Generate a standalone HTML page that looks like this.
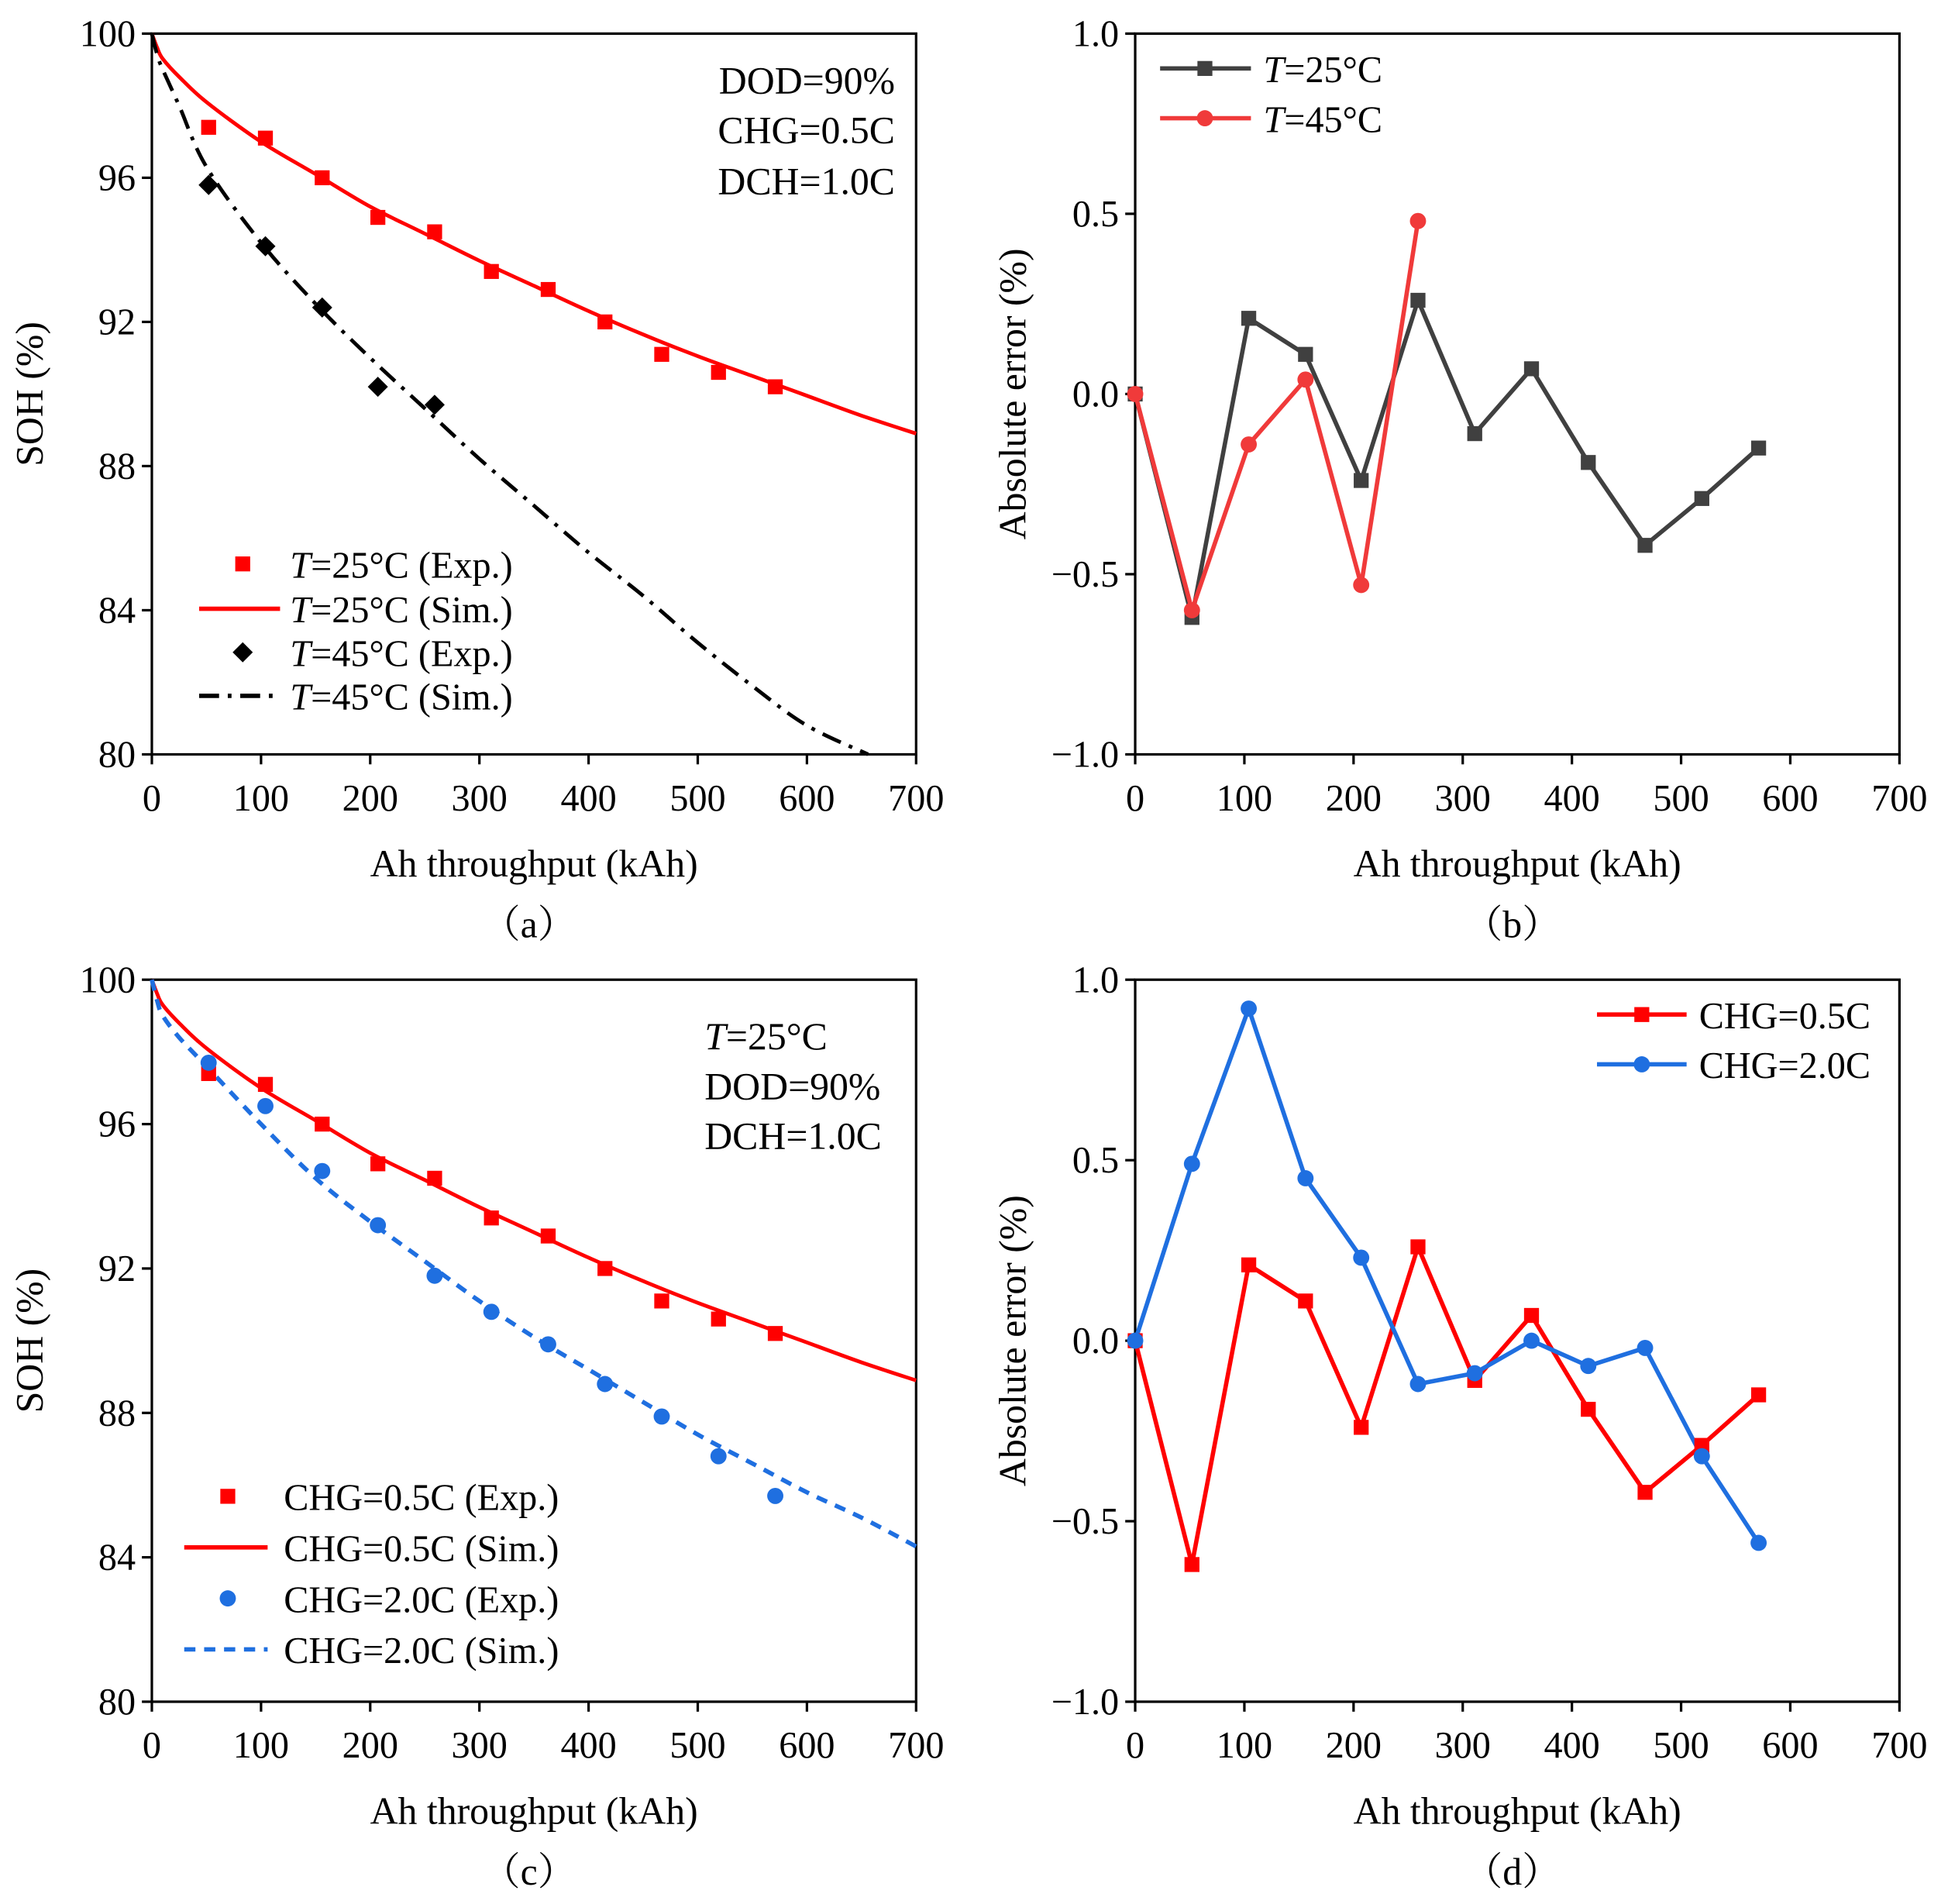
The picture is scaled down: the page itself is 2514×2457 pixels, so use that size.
<!DOCTYPE html>
<html><head><meta charset="utf-8"><style>
html,body{margin:0;padding:0;background:#fff}
svg{display:block}
text{font-family:"Liberation Serif","Noto Serif CJK SC",serif;fill:#000}
</style></head><body>
<svg id="fig" width="2514" height="2457" viewBox="0 0 1565 1529.5" preserveAspectRatio="none" xmlns="http://www.w3.org/2000/svg"></svg>
<script>
const expX=[52,104,156,207,259,311,363,415,467,519,571];
const soh25Exp=[97.4,97.1,96.0,94.9,94.5,93.4,92.9,92.0,91.1,90.6,90.2];
const soh45ExpX=[52,104,156,207,259];
const soh45Exp=[95.8,94.1,92.4,90.2,89.7];
const simX=[0,5,10,25,50,100,150,200,250,300,350,400,450,500,550,600,650,700];
const soh25Sim=[100,99.6,99.3,98.8,98.1,97.0,96.1,95.2,94.45,93.7,93.0,92.3,91.65,91.05,90.5,89.95,89.4,88.9];
const soh45SimX=[0,5,10,25,50,100,150,200,250,300,350,400,450,500,550,600,656];
const soh45Sim=[100,99.4,99.0,98.0,96.3,94.2,92.5,91.0,89.6,88.2,86.9,85.6,84.4,83.1,81.9,80.8,80.0];
const soh20Sim=[100,99.4,99.0,98.4,97.6,96.0,94.5,93.3,92.2,91.1,90.1,89.2,88.3,87.4,86.6,85.8,85.1,84.3];
const soh20Exp=[97.7,96.5,94.7,93.2,91.8,90.8,89.9,88.8,87.9,86.8,85.7];
const errX=[0,52,104,156,207,259,311,363,415,467,519,571];
const err25=[0,-0.62,0.21,0.11,-0.24,0.26,-0.11,0.07,-0.19,-0.42,-0.29,-0.15];
const err45X=[0,52,104,156,207,259];
const err45=[0,-0.60,-0.14,0.04,-0.53,0.48];
const errChg20=[0,0.49,0.92,0.45,0.23,-0.12,-0.09,0.00,-0.07,-0.02,-0.32,-0.56];
const xTicks=[0,100,200,300,400,500,600,700];
const sohTicks=[80,84,88,92,96,100];
const errTicks=[-1.0,-0.5,0.0,0.5,1.0];
const errTickLabels=["\u22121.0","\u22120.5","0.0","0.5","1.0"];

const NS="http://www.w3.org/2000/svg";
const svg=document.getElementById('fig');
function mk(tag,attrs,parent){const e=document.createElementNS(NS,tag);for(const k in attrs)e.setAttribute(k,attrs[k]);(parent||svg).appendChild(e);return e;}

function panel(id,x0,x1,yTop,yBot,ymin,ymax,yt,ytl,ytitle,sub){
  const g=mk('g',{});
  
  
  const sx=v=>x0+(v/700)*(x1-x0);
  const sy=v=>yBot-(v-ymin)/(ymax-ymin)*(yBot-yTop);
  const fr=mk('rect',{x:x0,y:yTop,width:x1-x0,height:yBot-yTop,fill:'none',stroke:'#000','stroke-width':2},g);
  
  
  xTicks.forEach(t=>{
    mk('line',{x1:sx(t),x2:sx(t),y1:yBot,y2:yBot+8,stroke:'#000','stroke-width':2},g);
    const tx=mk('text',{x:sx(t),y:yBot+45,'text-anchor':'middle','font-size':30},g);tx.textContent=t;
    
    
  });
  yt.forEach((t,i)=>{
    mk('line',{x1:x0-8,x2:x0,y1:sy(t),y2:sy(t),stroke:'#000','stroke-width':2},g);
    const tx=mk('text',{x:x0-13,y:sy(t)+10,'text-anchor':'end','font-size':30},g);tx.textContent=ytl[i];
    
    
  });
  const xt=mk('text',{x:(x0+x1)/2,y:yBot+98,'text-anchor':'middle','font-size':31},g);xt.textContent='Ah throughput (kAh)';
  
  
  const cy=(yTop+yBot)/2;
  const ytt=mk('text',{x:x0-88,y:cy,'text-anchor':'middle','font-size':31,transform:`rotate(-90 ${x0-88} ${cy})`},g);ytt.textContent=ytitle;
  
  
  const st=mk('text',{x:(x0+x1)/2-4,y:yBot+147,'text-anchor':'middle','font-size':31},g);st.textContent='\uFF08'+sub+'\uFF09';
  
  
  return {g,sx,sy};
}
function line(p,xs,ys,color,w,dash,name,smooth){
  const P=xs.map((x,i)=>[p.sx(x),p.sy(ys[i])]);
  let d='M'+P[0][0].toFixed(1)+','+P[0][1].toFixed(1);
  for(let i=1;i<P.length;i++){
    if(smooth){
      const p0=P[i-2]||P[i-1],p1=P[i-1],p2=P[i],p3=P[i+1]||P[i];
      const c1=[p1[0]+(p2[0]-p0[0])/6,p1[1]+(p2[1]-p0[1])/6];
      const c2=[p2[0]-(p3[0]-p1[0])/6,p2[1]-(p3[1]-p1[1])/6];
      d+='C'+c1.map(v=>v.toFixed(1)).join(',')+' '+c2.map(v=>v.toFixed(1)).join(',')+' '+p2[0].toFixed(1)+','+p2[1].toFixed(1);
    } else d+='L'+P[i][0].toFixed(1)+','+P[i][1].toFixed(1);
  }
  const e=mk('path',{d,fill:'none',stroke:color,'stroke-width':w,'stroke-dasharray':dash||'none','stroke-linejoin':'round'},p.g);
  
  
}
function marker(g,type,x,y,color,s,name){
  let e;
  if(type==='sq')e=mk('rect',{x:x-s,y:y-s,width:2*s,height:2*s,fill:color},g);
  else if(type==='ci')e=mk('circle',{cx:x,cy:y,r:s,fill:color},g);
  else e=mk('path',{d:`M${x},${y-s*1.35}L${x+s*1.35},${y}L${x},${y+s*1.35}L${x-s*1.35},${y}Z`,fill:color},g);
  
  
}
function pts(p,xs,ys,type,color,s,name){xs.forEach((x,i)=>marker(p.g,type,p.sx(x),p.sy(ys[i]),color,s,name));}
function legText(g,x,y,italicT,rest,size){
  const t=mk('text',{x,y,'font-size':size||30},g);
  if(italicT){const a=mk('tspan',{'font-style':'italic'},t);a.textContent='T';const b=mk('tspan',{},t);b.textContent=rest;}
  else t.textContent=rest;
  
  
}
function legLine(g,x1,x2,y,color,dash){const e=mk('line',{x1,x2,y1:y,y2:y,stroke:color,'stroke-width':3.5,'stroke-dasharray':dash||'none'},g);
  
  }

const RED='#ff0000',BLUE='#1f6fe0',GREY='#404040',LRED='#f03a3a';
const DASHDOT='16,7,3,7';
// Panel a
const pa=panel('a',122,736,27,606,80,100,sohTicks,sohTicks.map(String),'SOH (%)','a');
line(pa,simX,soh25Sim,RED,3,null,'sim-25c-line',true);
line(pa,soh45SimX,soh45Sim,'#000',3,DASHDOT,'sim-45c-line',true);
pts(pa,expX,soh25Exp,'sq',RED,6,'exp-25c-point');
pts(pa,soh45ExpX,soh45Exp,'di','#000',6,'exp-45c-point');
[['DOD=90%',75],['CHG=0.5C',115],['DCH=1.0C',156]].forEach(a=>{const t=mk('text',{x:719,y:a[1],'text-anchor':'end','font-size':31},pa.g);t.textContent=a[0];
  
  });
marker(pa.g,'sq',195,453,RED,6,'legend-marker');legText(pa.g,233,464,true,'=25°C (Exp.)');
legLine(pa.g,160,225,489,RED);legText(pa.g,233,500,true,'=25°C (Sim.)');
marker(pa.g,'di',195,524,'#000',6,'legend-marker');legText(pa.g,233,535,true,'=45°C (Exp.)');
legLine(pa.g,160,225,559,'#000',DASHDOT);legText(pa.g,233,570,true,'=45°C (Sim.)');

// Panel b
const pb=panel('b',912,1526,27,606,-1,1,errTicks,errTickLabels,'Absolute error (%)','b');
line(pb,errX,err25,GREY,3.5,null,'err-25c-line');
line(pb,err45X,err45,LRED,3.5,null,'err-45c-line');
pts(pb,errX,err25,'sq',GREY,6,'err-25c-point');
pts(pb,err45X,err45,'ci',LRED,6.5,'err-45c-point');
legLine(pb.g,932,1005,55,GREY);marker(pb.g,'sq',968,55,GREY,6,'legend-marker');legText(pb.g,1015,66,true,'=25°C');
legLine(pb.g,932,1005,95,LRED);marker(pb.g,'ci',968,95,LRED,6.5,'legend-marker');legText(pb.g,1015,106,true,'=45°C');

// Panel c
const pc=panel('c',122,736,787,1367,80,100,sohTicks,sohTicks.map(String),'SOH (%)','c');
line(pc,simX,soh25Sim,RED,3,null,'sim-chg05-line',true);
line(pc,simX,soh20Sim,BLUE,3.5,'9,7','sim-chg20-line',true);
pts(pc,expX,soh25Exp,'sq',RED,6,'exp-chg05-point');
pts(pc,expX,soh20Exp,'ci',BLUE,6.5,'exp-chg20-point');
[['=25°C',843,true],['DOD=90%',883],['DCH=1.0C',923]].forEach(a=>{
  const t=mk('text',{x:566,y:a[1],'font-size':31},pc.g);
  if(a[2]){const s=mk('tspan',{'font-style':'italic'},t);s.textContent='T';const s2=mk('tspan',{},t);s2.textContent=a[0];}else t.textContent=a[0];
  
  });
marker(pc.g,'sq',183,1202,RED,6,'legend-marker');legText(pc.g,228,1213,false,'CHG=0.5C (Exp.)');
legLine(pc.g,148,215,1243,RED);legText(pc.g,228,1254,false,'CHG=0.5C (Sim.)');
marker(pc.g,'ci',183,1284,BLUE,6.5,'legend-marker');legText(pc.g,228,1295,false,'CHG=2.0C (Exp.)');
legLine(pc.g,148,215,1325,BLUE,'9,7');legText(pc.g,228,1336,false,'CHG=2.0C (Sim.)');

// Panel d
const pd=panel('d',912,1526,787,1367,-1,1,errTicks,errTickLabels,'Absolute error (%)','d');
line(pd,errX,err25,RED,3.5,null,'err-chg05-line');
line(pd,errX,errChg20,BLUE,3.5,null,'err-chg20-line');
pts(pd,errX,err25,'sq',RED,6,'err-chg05-point');
pts(pd,errX,errChg20,'ci',BLUE,6.5,'err-chg20-point');
legLine(pd.g,1283,1355,815,RED);marker(pd.g,'sq',1319,815,RED,6,'legend-marker');legText(pd.g,1365,826,false,'CHG=0.5C');
legLine(pd.g,1283,1355,855,BLUE);marker(pd.g,'ci',1319,855,BLUE,6.5,'legend-marker');legText(pd.g,1365,866,false,'CHG=2.0C');
</script>
</body></html>
